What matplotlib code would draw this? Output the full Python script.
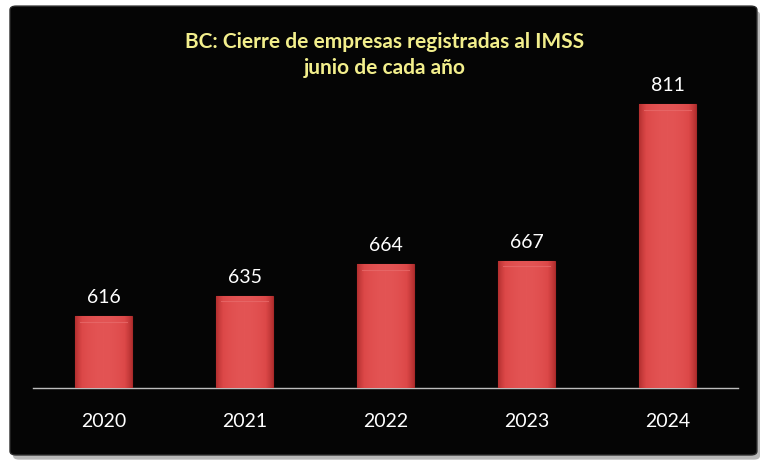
import matplotlib
matplotlib.use('Agg')
import matplotlib.pyplot as plt
from matplotlib.patches import FancyBboxPatch
import numpy as np

# datos
years = ['2020', '2021', '2022', '2023', '2024']
empresas = [616, 635, 664, 667, 811]

title_line1 = 'BC: Cierre de empresas registradas al IMSS'
title_line2 = 'junio de cada año'

plt.rcParams['font.family'] = ['Lato', 'DejaVu Sans']

fig = plt.figure(figsize=(7.7, 4.7), dpi=100)
fig.patch.set_facecolor('white')

# sombra y panel negro
shadow = FancyBboxPatch((0.017, 0.022), 0.970, 0.955,
                        boxstyle='round,pad=0,rounding_size=0.008',
                        transform=fig.transFigure, facecolor='#b8b8b8',
                        edgecolor='none', zorder=0)
panel = FancyBboxPatch((0.013, 0.032), 0.970, 0.955,
                       boxstyle='round,pad=0,rounding_size=0.008',
                       transform=fig.transFigure, facecolor='#050505',
                       edgecolor='#2a2a2a', linewidth=1.0, zorder=1)
fig.patches.extend([shadow, panel])

ax = fig.add_axes([0.0429, 0.1745, 0.9156, 0.6936])
ax.set_facecolor('none')
ax.set_zorder(2)

x = np.arange(len(years))
bars = ax.bar(x, empresas, width=0.40, bottom=0, color='#d84444',
              edgecolor='#a82a2a', linewidth=0.8, zorder=3)

# degradado horizontal dentro de cada barra
grad = np.linspace(0, 1, 100)
grad = 1 - 0.35 * (2 * grad - 1) ** 2
grad = np.vstack([grad, grad])
cmap = matplotlib.colors.LinearSegmentedColormap.from_list(
    'rojo', ['#a82828', '#dc4848', '#e35454'])
for b in bars:
    bx, by = b.get_x(), 550
    bw, bh = b.get_width(), b.get_height() - 550
    im = ax.imshow(grad, cmap=cmap, extent=(bx, bx + bw, by, by + bh),
                   aspect='auto', zorder=4, vmin=0.6, vmax=1.0)
    im.set_clip_path(b)
    # bisel superior
    ax.plot([bx + bw * 0.08, bx + bw * 0.92], [by + bh - 5, by + bh - 5],
            color='#e86a6a', linewidth=0.8, alpha=0.8, zorder=5)

ax.set_xlim(-0.5, 4.5)
ax.set_ylim(550, 850)

for xi, v in zip(x, empresas):
    ax.text(xi, v + 17, str(v), ha='center', va='center', color='white',
            fontsize=14, zorder=6)

ax.set_xticks(x)
ax.set_xticklabels(years, color='white', fontsize=14)
ax.tick_params(axis='x', length=0, pad=18)
ax.set_yticks([])
for s in ['top', 'right', 'left']:
    ax.spines[s].set_visible(False)
ax.spines['bottom'].set_color('#bdbdbd')
ax.spines['bottom'].set_linewidth(1.0)

fig.text(0.5, 1 - 42 / 470, title_line1, ha='center', va='center',
         color='#f3ef8c', fontsize=15, fontweight='bold', zorder=3)
fig.text(0.5, 1 - 68 / 470, title_line2, ha='center', va='center',
         color='#f3ef8c', fontsize=15, fontweight='bold', zorder=3)

fig.savefig('out.png', dpi=100, facecolor='white')
